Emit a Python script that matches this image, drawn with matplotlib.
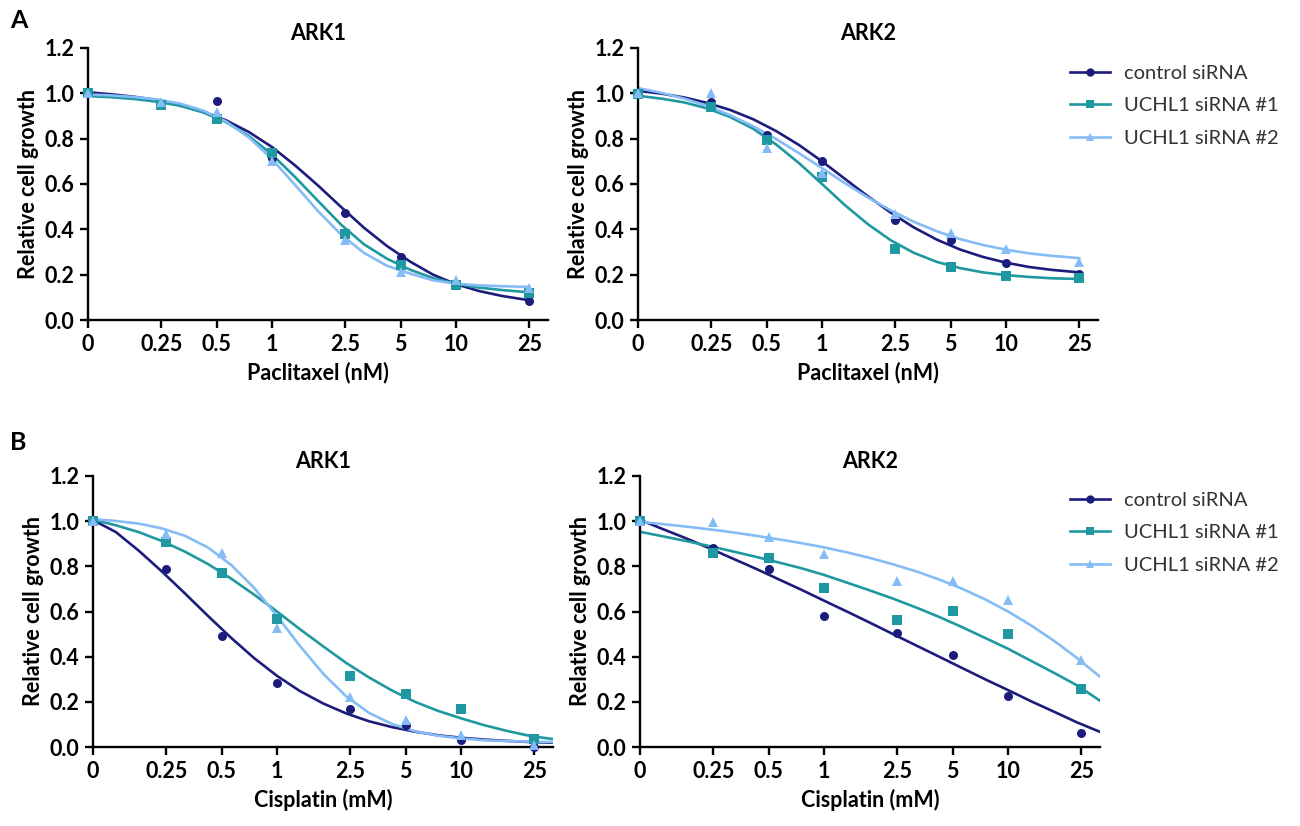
import matplotlib
matplotlib.use("Agg")
import matplotlib.pyplot as plt
from matplotlib.lines import Line2D

plt.rcParams["font.family"] = ["Lato", "DejaVu Sans"]

# doses (0 is drawn at 0.1 on the log axis)
doses = [0, 0.25, 0.5, 1, 2.5, 5, 10, 25]
dose_labels = ["0", "0.25", "0.5", "1", "2.5", "5", "10", "25"]
groups = ["control siRNA", "UCHL1 siRNA #1", "UCHL1 siRNA #2"]
colors = ["#1c1c7c", "#1f98a2", "#85bcf6"]
markers = ["o", "s", "^"]

# measured points, one list per group
ark1_pac = [[1.0, 0.948, 0.966, 0.716, 0.474, 0.279, 0.156, 0.084],
            [1.0, 0.948, 0.886, 0.738, 0.381, 0.244, 0.153, 0.119],
            [1.0, 0.960, 0.918, 0.700, 0.355, 0.210, 0.178, 0.140]]
ark2_pac = [[1.0, 0.963, 0.816, 0.702, 0.442, 0.351, 0.251, 0.204],
            [0.995, 0.941, 0.796, 0.631, 0.313, 0.233, 0.193, 0.187],
            [1.0, 1.003, 0.761, 0.649, 0.468, 0.383, 0.314, 0.255]]
ark1_cis = [[1.0, 0.786, 0.493, 0.285, 0.168, 0.099, 0.030, 0.0],
            [1.0, 0.909, 0.771, 0.569, 0.316, 0.233, 0.168, 0.037],
            [1.0, 0.944, 0.860, 0.528, 0.221, 0.121, 0.055, 0.010]]
ark2_cis = [[1.0, 0.879, 0.788, 0.582, 0.504, 0.409, 0.227, 0.060],
            [1.0, 0.857, 0.837, 0.706, 0.563, 0.602, 0.501, 0.258],
            [1.0, 0.997, 0.931, 0.854, 0.737, 0.735, 0.653, 0.386]]

# fitted curves
fit_x_pac = [0.1, 0.133, 0.178, 0.237, 0.316, 0.422, 0.562, 0.750, 1.0, 1.33,
             1.78, 2.37, 3.16, 4.22, 5.62, 7.50, 10.0, 13.3, 17.8, 25.0]
fit_x_cis = [0.1, 0.133, 0.178, 0.237, 0.316, 0.422, 0.562, 0.750, 1.0, 1.33,
             1.78, 2.37, 3.16, 4.22, 5.62, 7.50, 10.0, 13.3, 17.8, 23.7, 31.6]

fit_ark1_pac = [[1.005, 0.996, 0.985, 0.970, 0.949, 0.920, 0.881, 0.829, 0.763, 0.683,
                 0.593, 0.499, 0.407, 0.326, 0.258, 0.200, 0.158, 0.128, 0.106, 0.087],
                [0.988, 0.983, 0.975, 0.963, 0.945, 0.916, 0.873, 0.811, 0.730, 0.632,
                 0.525, 0.421, 0.334, 0.270, 0.222, 0.185, 0.160, 0.143, 0.132, 0.122],
                [0.995, 0.991, 0.984, 0.973, 0.955, 0.924, 0.876, 0.805, 0.710, 0.597,
                 0.480, 0.377, 0.296, 0.239, 0.205, 0.175, 0.160, 0.153, 0.149, 0.146]]
fit_ark2_pac = [[1.011, 0.999, 0.982, 0.958, 0.927, 0.886, 0.834, 0.772, 0.700, 0.623,
                 0.545, 0.473, 0.408, 0.354, 0.311, 0.278, 0.253, 0.234, 0.221, 0.210],
                [0.989, 0.977, 0.960, 0.934, 0.896, 0.844, 0.775, 0.692, 0.600, 0.507,
                 0.422, 0.351, 0.296, 0.256, 0.229, 0.210, 0.198, 0.190, 0.184, 0.181],
                [1.023, 1.003, 0.977, 0.945, 0.904, 0.855, 0.799, 0.736, 0.670, 0.604,
                 0.540, 0.483, 0.433, 0.391, 0.357, 0.331, 0.310, 0.294, 0.283, 0.273]]
fit_ark1_cis = [[1.005, 0.952, 0.868, 0.777, 0.680, 0.580, 0.484, 0.394, 0.315, 0.248,
                 0.193, 0.149, 0.114, 0.088, 0.068, 0.052, 0.041, 0.033, 0.027, 0.022, 0.019],
                [1.007, 0.982, 0.951, 0.912, 0.865, 0.810, 0.746, 0.675, 0.600, 0.522,
                 0.446, 0.373, 0.308, 0.250, 0.200, 0.160, 0.127, 0.097, 0.071, 0.049, 0.035],
                [1.009, 1.001, 0.989, 0.968, 0.935, 0.883, 0.807, 0.705, 0.580, 0.448,
                 0.325, 0.225, 0.151, 0.102, 0.070, 0.050, 0.038, 0.030, 0.026, 0.024, 0.022]]
fit_ark2_cis = [[1.006, 0.965, 0.924, 0.881, 0.836, 0.791, 0.744, 0.697, 0.648, 0.600,
                 0.550, 0.500, 0.450, 0.400, 0.350, 0.300, 0.252, 0.203, 0.156, 0.109, 0.067],
                [0.953, 0.933, 0.912, 0.890, 0.867, 0.843, 0.818, 0.792, 0.762, 0.728,
                 0.693, 0.657, 0.618, 0.576, 0.531, 0.483, 0.435, 0.382, 0.328, 0.273, 0.205],
                [0.997, 0.987, 0.976, 0.964, 0.951, 0.936, 0.920, 0.903, 0.884, 0.862,
                 0.837, 0.809, 0.778, 0.742, 0.701, 0.654, 0.600, 0.539, 0.470, 0.394, 0.311]]

ZERO = 0.1   # where the 0 dose sits on the log axis
W, H = 1300, 826
FS = 15.5


def panel(rect, title, xlabel, pts, fit_x, fits):
    ax = fig.add_axes([rect[0]/W, 1-rect[3]/H, (rect[2]-rect[0])/W, (rect[3]-rect[1])/H])
    xs = [ZERO if d == 0 else d for d in doses]
    for i in range(3):
        ax.plot(fit_x, fits[i], "-", color=colors[i], lw=1.9, zorder=2)
        ax.plot(xs, pts[i], markers[i], color=colors[i], ms=6.5 if i < 2 else 7,
                mew=0, zorder=3+i, clip_on=False)
    ax.set_xscale("log")
    ax.set_xlim(0.1, 31.6)
    ax.set_ylim(0, 1.2)
    ax.minorticks_off()
    ax.set_xticks(xs)
    ax.set_xticklabels(dose_labels)
    ax.set_yticks([0, 0.2, 0.4, 0.6, 0.8, 1.0, 1.2])
    ax.set_yticklabels(["%.1f" % v for v in [0, 0.2, 0.4, 0.6, 0.8, 1.0, 1.2]])
    for s in ["top", "right"]:
        ax.spines[s].set_visible(False)
    for s in ["left", "bottom"]:
        ax.spines[s].set_linewidth(1.7)
    ax.tick_params(direction="out", length=6, width=1.7, labelsize=FS, pad=4)
    for lab in ax.get_xticklabels() + ax.get_yticklabels():
        lab.set_fontweight("bold")
    ax.set_title(title, fontsize=FS, fontweight="bold", pad=6)
    ax.set_xlabel(xlabel, fontsize=FS, fontweight="bold", labelpad=5)
    ax.set_ylabel("Relative cell growth", fontsize=FS, fontweight="bold", labelpad=4)
    return ax


fig = plt.figure(figsize=[13, 8.26], dpi=100)

panel([88, 48, 548, 320], "ARK1", "Paclitaxel (nM)", ark1_pac, fit_x_pac, fit_ark1_pac)
panel([638, 48, 1098, 320], "ARK2", "Paclitaxel (nM)", ark2_pac, fit_x_pac, fit_ark2_pac)
panel([93, 476, 553, 747], "ARK1", "Cisplatin (mM)", ark1_cis, fit_x_cis, fit_ark1_cis)
panel([640, 476, 1100, 747], "ARK2", "Cisplatin (mM)", ark2_cis, fit_x_cis, fit_ark2_cis)

handles = [Line2D([], [], color=colors[i], marker=markers[i], lw=1.9, ms=6, mew=0)
           for i in range(3)]
for ytop in [47, 474]:
    fig.legend(handles, groups, loc="upper left", bbox_to_anchor=(1052/W, 1-ytop/H),
               frameon=False, fontsize=14.5, handlelength=2.0, handletextpad=0.7,
               labelspacing=0.75, labelcolor="#333333")

fig.text(10/W, 1-20/H, "A", fontsize=18, fontweight="bold", va="center")
fig.text(10/W, 1-442/H, "B", fontsize=18, fontweight="bold", va="center")

fig.savefig("out.png", dpi=100)
